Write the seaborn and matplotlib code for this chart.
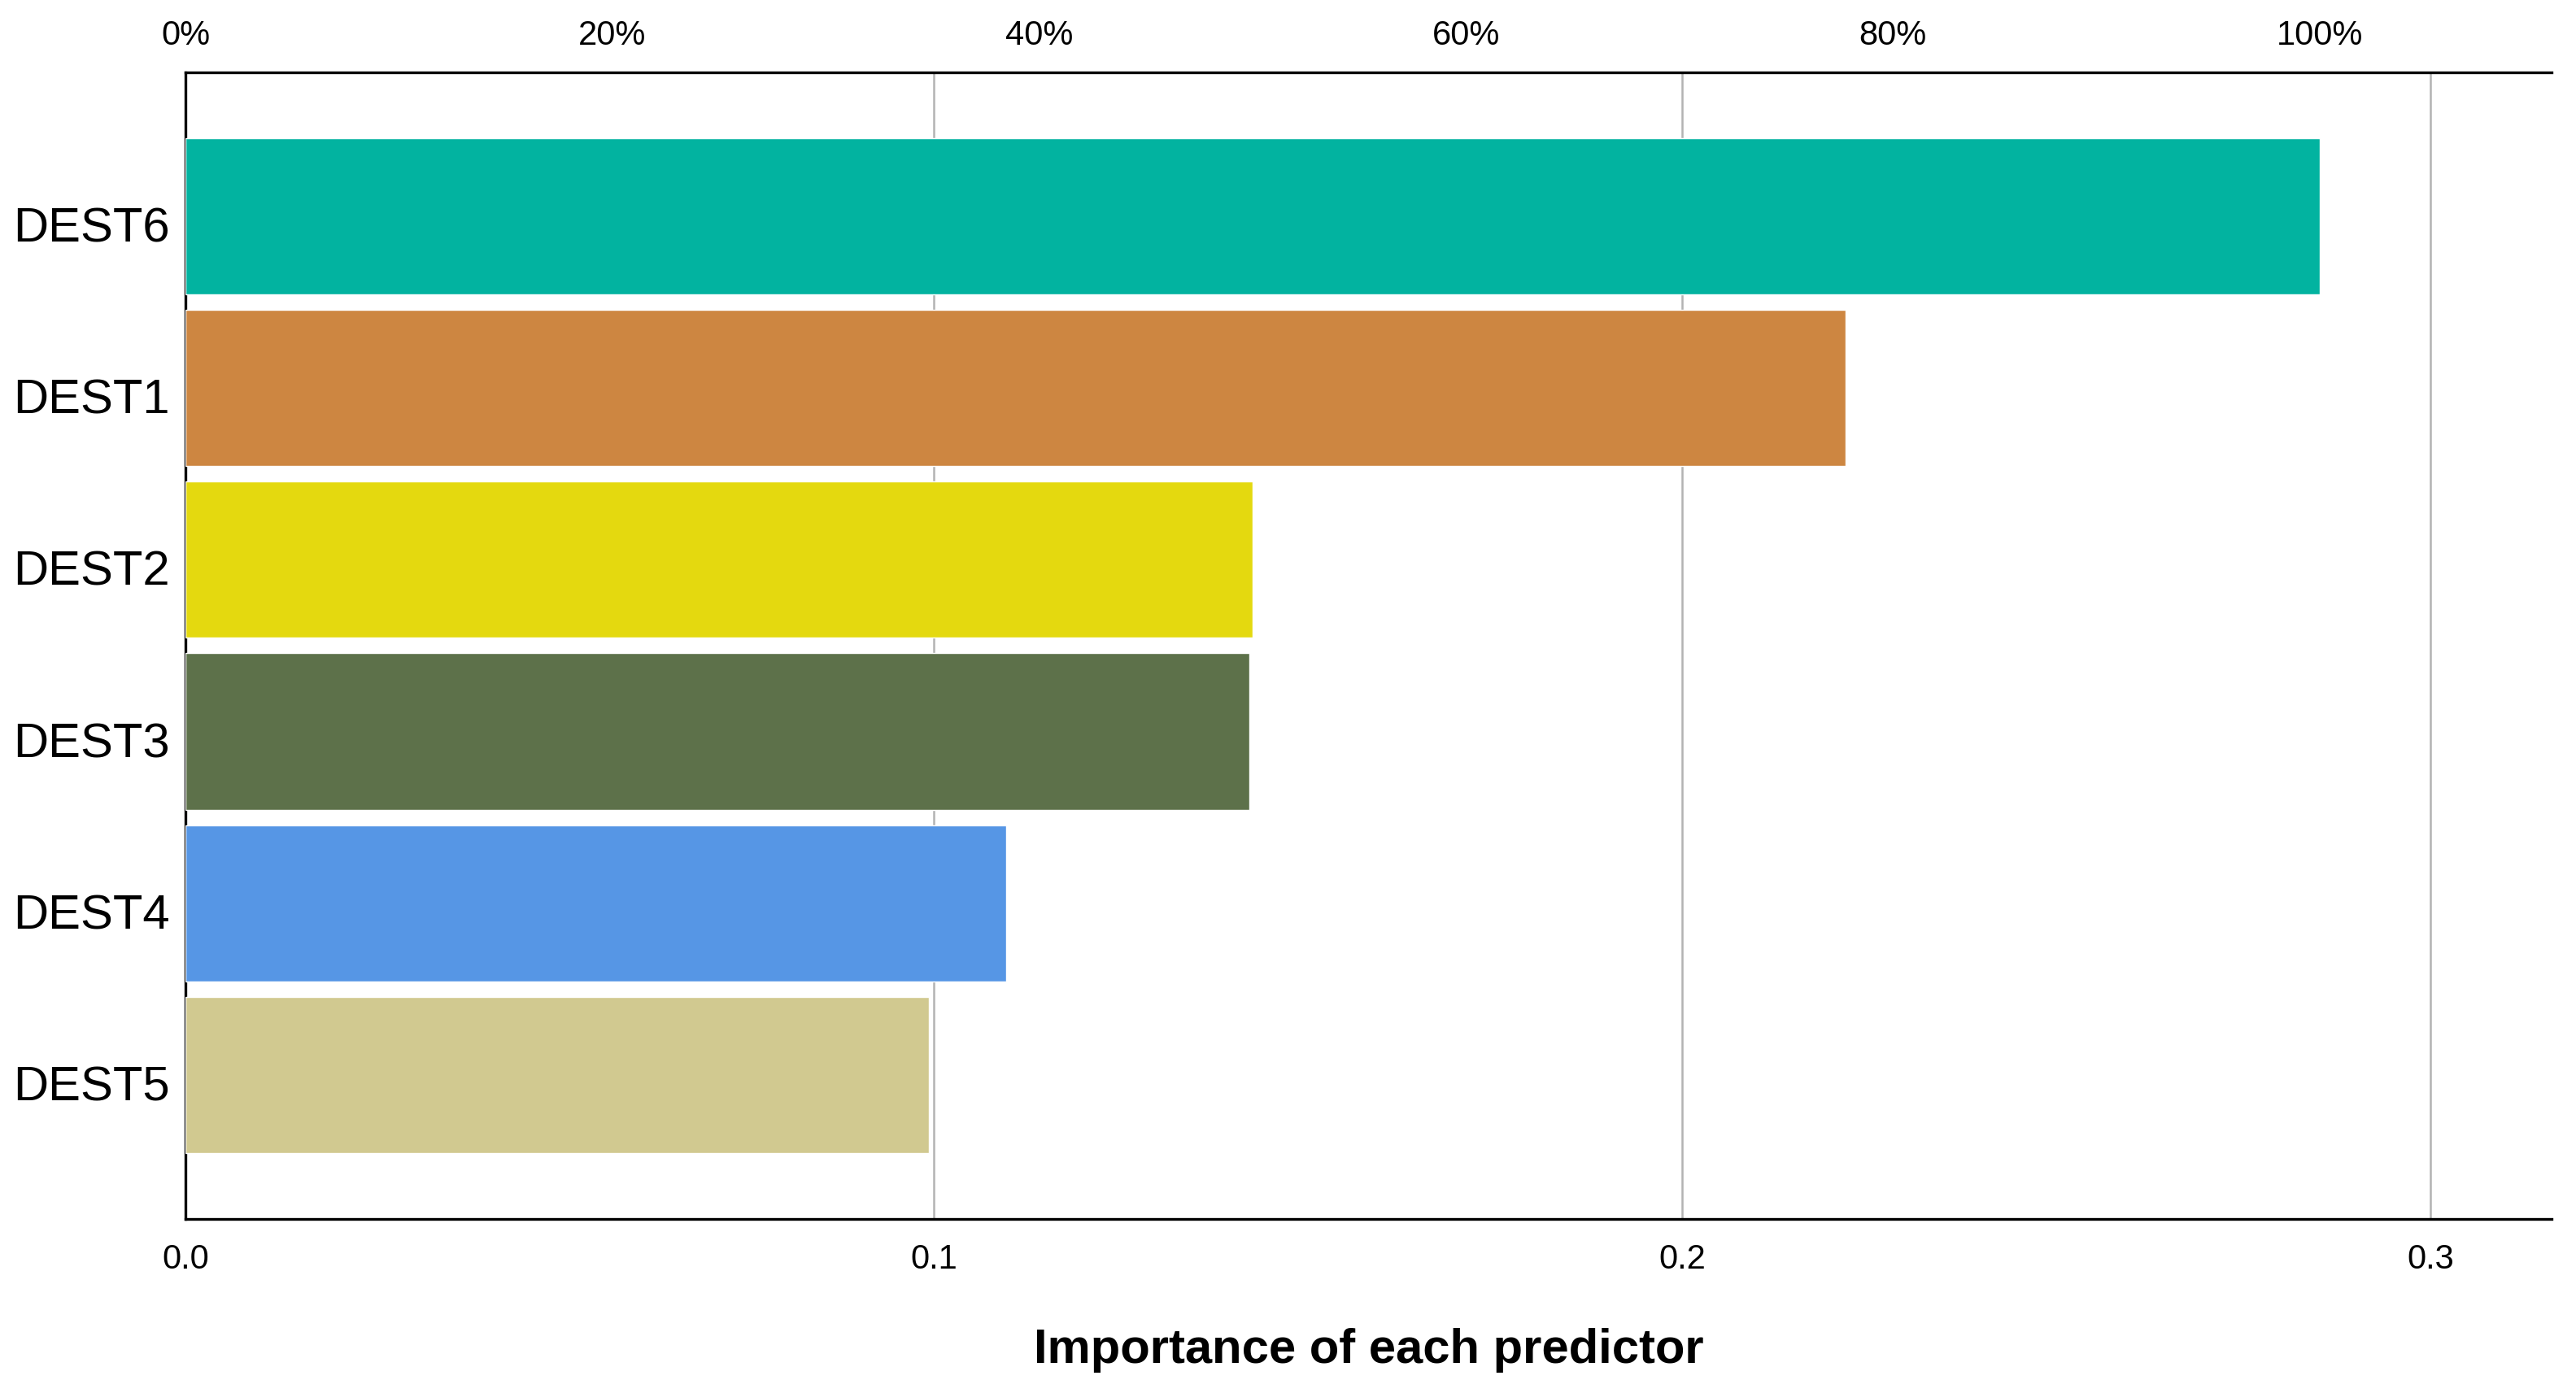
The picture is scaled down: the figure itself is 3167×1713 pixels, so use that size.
import matplotlib
matplotlib.use('Agg')
import matplotlib.pyplot as plt
import matplotlib.transforms as mtransforms
from matplotlib.ticker import FuncFormatter
import seaborn as sns
import pandas as pd

# Predictor importance
predictors = ['DEST6', 'DEST1', 'DEST2', 'DEST3', 'DEST4', 'DEST5']
importance = [0.2852, 0.2219, 0.1426, 0.1422, 0.1097, 0.0993]
bar_colors = ['#02B3A0', '#CD8641', '#E4D90F', '#5D714A', '#5696E5', '#D1C990']
bottom_ticks = [0.0, 0.1, 0.2, 0.3]
top_ticks = [0, 20, 40, 60, 80, 100]

df = pd.DataFrame({'Predictor': predictors, 'Importance': importance})
max_imp = max(importance)

sns.set_style('white')
plt.rcParams['font.family'] = ['Liberation Sans', 'DejaVu Sans']
for key in ['text.color', 'axes.labelcolor', 'xtick.color', 'ytick.color']:
    plt.rcParams[key] = 'black'

fig = plt.figure(figsize=(31.67, 17.13), dpi=100)
ax = fig.add_axes([0.072, 0.125, 0.9185, 0.823])

sns.barplot(data=df, x='Importance', y='Predictor', hue='Predictor',
            palette=bar_colors, orient='h', width=0.91, legend=False,
            saturation=1, ax=ax, zorder=3)

ax.set_xlim(0, 0.3162)
ax.set_ylim(5.837, -0.837)
ax.set_xticks(bottom_ticks)
ax.xaxis.set_major_formatter(FuncFormatter(lambda v, p: f'{v:.1f}'))
ax.grid(axis='x', color='#b3b3b3', linewidth=1.8, zorder=0)
ax.grid(axis='y', visible=False)

for s in ['top', 'bottom', 'left']:
    ax.spines[s].set_visible(True)
    ax.spines[s].set_color('black')
    ax.spines[s].set_linewidth(2.4)
ax.spines['right'].set_visible(False)

ax.tick_params(axis='x', length=0, pad=22, labelsize=30)
ax.tick_params(axis='y', length=0, pad=14, labelsize=43)

# category labels sit a touch below the bar centres in the original
shift = mtransforms.ScaledTranslation(0, -10 / 100, fig.dpi_scale_trans)
for lbl in ax.get_yticklabels():
    lbl.set_transform(lbl.get_transform() + shift)

ax.set_ylabel('')
ax.set_xlabel('Importance of each predictor', fontsize=43,
              fontweight='bold', labelpad=46)

# Top axis: importance relative to the strongest predictor
top = ax.secondary_xaxis('top', functions=(lambda v: v / max_imp * 100,
                                           lambda p: p * max_imp / 100))
top.set_xticks(top_ticks)
top.xaxis.set_major_formatter(FuncFormatter(lambda v, p: f'{v:.0f}%'))
top.tick_params(axis='x', length=0, pad=18, labelsize=30)
top.spines['top'].set_visible(False)

plt.savefig('out.png', dpi=100)
